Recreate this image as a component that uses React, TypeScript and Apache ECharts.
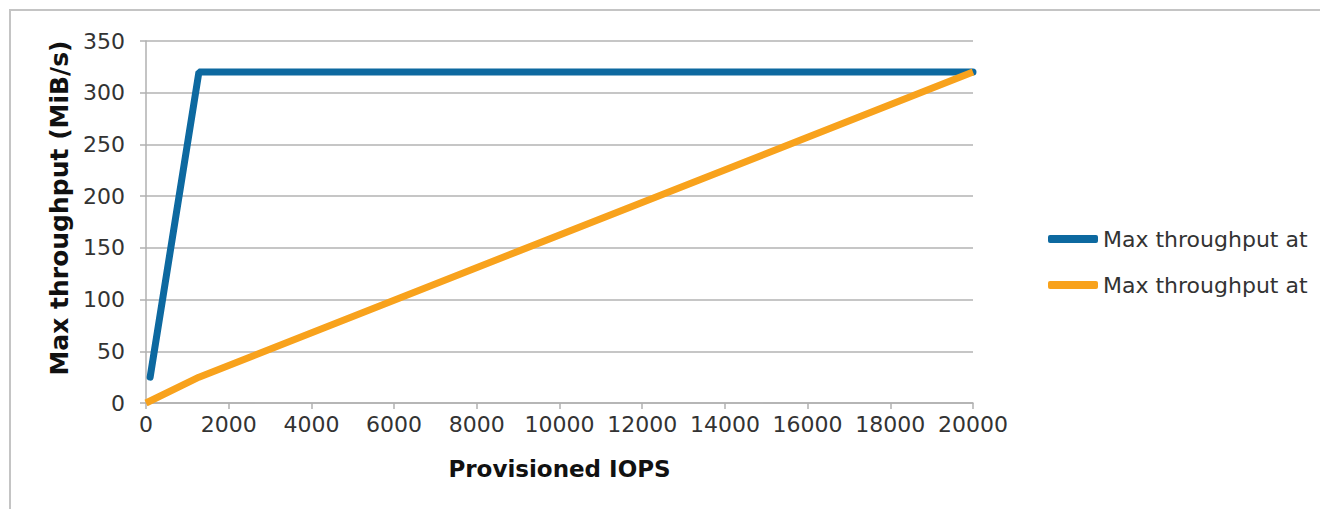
import React, { useEffect, useRef } from "react";
import * as echarts from "echarts";

// Max throughput vs provisioned IOPS, two I/O sizes
const iopsLarge = [100, 1280, 20000];
const throughputLarge = [25, 320, 320];
const iopsSmall = [0, 1280, 20000];
const throughputSmall = [0, 25, 320];
const seriesNames = ["Max throughput at", "Max throughput at "];
const seriesColors = ["#0d69a0", "#f8a21c"];

const FONT = "DejaVu Sans";

export default function App() {
  const ref = useRef<HTMLDivElement>(null);

  useEffect(() => {
    document.body.style.margin = "0";
    const chart = echarts.init(ref.current!, undefined, { renderer: "svg" });
    const toPairs = (xs: number[], ys: number[]) => xs.map((x, i) => [x, ys[i]]);

    chart.setOption({
      animation: false,
      backgroundColor: "#ffffff",
      graphic: [
        {
          type: "rect",
          shape: { x: 10, y: 10, width: 1400, height: 600 },
          style: { fill: "none", stroke: "#c4c4c4", lineWidth: 2 },
          silent: true,
        },
      ],
      grid: { left: 146, top: 41, right: 347, bottom: 106 },
      legend: {
        orient: "vertical",
        left: 1043,
        top: 223,
        itemWidth: 50,
        itemHeight: 8,
        itemGap: 24,
        icon: "roundRect",
        data: seriesNames.map((n, i) => ({
          name: n,
          itemStyle: { color: seriesColors[i] },
        })),
        textStyle: { fontFamily: FONT, fontSize: 22, color: "#333" },
      },
      xAxis: {
        type: "value",
        min: 0,
        max: 20000,
        interval: 2000,
        name: "Provisioned IOPS",
        nameLocation: "middle",
        nameGap: 54,
        nameTextStyle: { fontFamily: FONT, fontSize: 23, fontWeight: "bold", color: "#111" },
        axisLine: { show: true, lineStyle: { color: "#b0b0b0", width: 1.5 } },
        axisTick: { show: true, length: 6, lineStyle: { color: "#b0b0b0", width: 1.5 } },
        axisLabel: {
          fontFamily: FONT,
          fontSize: 22,
          color: "#333",
          margin: 10,
          formatter: (v: number) => String(v),
        },
        splitLine: { show: false },
      },
      yAxis: {
        type: "value",
        min: 0,
        max: 350,
        interval: 50,
        name: "Max throughput (MiB/s)",
        nameLocation: "middle",
        nameRotate: 90,
        nameGap: 72,
        nameTextStyle: {
          fontFamily: FONT,
          fontSize: 25,
          fontWeight: "bold",
          color: "#111",
          padding: [0, 0, 0, 28],
        },
        axisLine: { show: true, lineStyle: { color: "#b0b0b0", width: 1.5 } },
        axisTick: { show: true, length: 6, lineStyle: { color: "#b0b0b0", width: 1.5 } },
        axisLabel: { fontFamily: FONT, fontSize: 22, color: "#333", margin: 21 },
        splitLine: { show: true, lineStyle: { color: "#b3b3b3", width: 1.5 } },
      },
      series: [
        {
          name: seriesNames[0],
          type: "line",
          data: toPairs(iopsLarge, throughputLarge),
          showSymbol: false,
          lineStyle: { color: seriesColors[0], width: 7, cap: "round" },
          itemStyle: { color: seriesColors[0] },
          z: 3,
        },
        {
          name: seriesNames[1],
          type: "line",
          data: toPairs(iopsSmall, throughputSmall),
          showSymbol: false,
          lineStyle: { color: seriesColors[1], width: 7 },
          itemStyle: { color: seriesColors[1] },
          z: 4,
        },
      ],
    });

    return () => chart.dispose();
  }, []);

  return <div ref={ref} style={{ width: 1320, height: 509 }} />;
}
